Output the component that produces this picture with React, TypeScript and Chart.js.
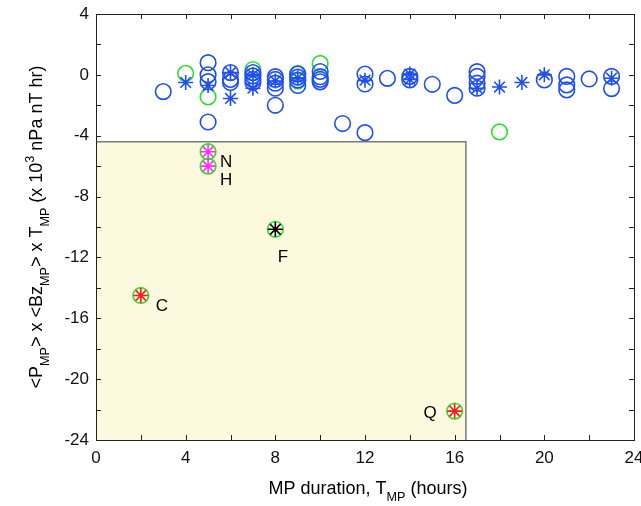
import { useEffect, useRef } from 'react';
import { Chart, registerables } from 'chart.js';

Chart.register(...registerables);

// ---- axes ----
const X_MIN = 0;
const X_MAX = 24;
const Y_MIN = -24;
const Y_MAX = 4;
const X_TICK_STEP = 4;
const Y_TICK_STEP = 4;
const MINOR_STEP = 2;

// ---- shaded region (data units) ----
const SHADE_X_MAX = 16.5;
const SHADE_Y_MAX = -4.4;

// ---- blue circles ----
const blueCircleX = [3, 5, 5, 5, 5, 6, 6, 6, 7, 7, 7, 7, 8, 8, 8, 8, 8, 9, 9, 9, 9, 10, 10, 10, 10, 11, 12, 12, 12, 13, 14, 14, 15, 16, 17, 17, 17, 17, 20, 21, 21, 21, 22, 23, 23];
const blueCircleY = [-1.1, 0.8, 0.0, -0.45, -3.1, 0.15, -0.3, -0.5, 0.15, -0.07, -0.3, -0.5, -0.12, -0.3, -0.55, -0.88, -2.0, 0.05, -0.15, -0.34, -0.7, 0.22, -0.12, -0.3, -0.46, -3.2, 0.05, -0.6, -3.8, -0.23, -0.1, -0.33, -0.62, -1.35, 0.21, -0.1, -0.55, -0.88, -0.33, -0.1, -0.66, -0.99, -0.27, -0.1, -0.9];

// ---- blue asterisks ----
const blueStarX = [4, 5, 6, 6, 7, 7, 8, 9, 12, 14, 14, 17, 18, 19, 20, 23];
const blueStarY = [-0.5, -0.7, 0.15, -1.55, 0.0, -0.88, -0.4, -0.2, -0.35, 0.05, -0.3, -0.88, -0.8, -0.5, 0.0, -0.22];

// ---- green circles ----
const greenCircleX = [4, 5, 7, 9, 9, 10, 18, 5, 5, 8, 2, 16];
const greenCircleY = [0.1, -1.45, 0.35, 0.1, -0.4, 0.75, -3.75, -5.05, -6.0, -10.15, -14.5, -22.1];

// ---- highlighted events ----
const magentaStarX = [5, 5];
const magentaStarY = [-5.05, -6.0];
const blackStarX = [8];
const blackStarY = [-10.15];
const redStarX = [2, 16];
const redStarY = [-14.5, -22.1];

// ---- event labels ----
const eventLabels = ['N', 'H', 'F', 'C', 'Q'];
const eventLabelX = [5.8, 5.8, 8.34, 2.94, 14.9];
const eventLabelY = [-5.75, -6.95, -11.98, -15.2, -22.25];

// ---- tick labels ----
const xTickValues = [0, 4, 8, 12, 16, 20, 24];
const yTickValues = [4, 0, -4, -8, -12, -16, -20, -24];

const FONT = '"Liberation Sans", Arial, Helvetica, sans-serif';
const BLUE = '#1f4ff2';
const GREEN = '#2ee02e';

type Seg = { t: string; k?: 'sub' | 'sup' };
const yTitle: Seg[] = [
  { t: '<P' }, { t: 'MP', k: 'sub' }, { t: '> x <Bz' }, { t: 'MP', k: 'sub' },
  { t: '> x T' }, { t: 'MP', k: 'sub' }, { t: ' (x 10' }, { t: '3', k: 'sup' }, { t: ' nPa nT hr)' },
];
const xTitle: Seg[] = [{ t: 'MP duration, T' }, { t: 'MP', k: 'sub' }, { t: ' (hours)' }];

const pts = (xs: number[], ys: number[]) => xs.map((x, i) => ({ x, y: ys[i] }));

function drawRich(ctx: CanvasRenderingContext2D, segs: Seg[], cx: number, by: number, size: number) {
  const small = size * 0.7;
  const fontOf = (s: Seg) => `${s.k ? small : size}px ${FONT}`;
  let total = 0;
  const widths = segs.map((s) => {
    ctx.font = fontOf(s);
    const w = ctx.measureText(s.t).width;
    total += w;
    return w;
  });
  let x = cx - total / 2;
  ctx.textAlign = 'left';
  ctx.textBaseline = 'alphabetic';
  segs.forEach((s, i) => {
    ctx.font = fontOf(s);
    const dy = s.k === 'sub' ? size * 0.38 : s.k === 'sup' ? -size * 0.45 : 0;
    ctx.fillText(s.t, x, by + dy);
    x += widths[i];
  });
}

const decorPlugin = {
  id: 'decor',
  beforeDatasetsDraw(chart: any) {
    const { ctx, scales } = chart;
    const xs = scales.x, ys = scales.y;
    const x0 = xs.getPixelForValue(X_MIN), x1 = xs.getPixelForValue(SHADE_X_MAX);
    const y0 = ys.getPixelForValue(Y_MIN), y1 = ys.getPixelForValue(SHADE_Y_MAX);
    ctx.save();
    ctx.fillStyle = '#fcf9df';
    ctx.fillRect(x0, y1, x1 - x0, y0 - y1);
    ctx.strokeStyle = '#7a7a7a';
    ctx.lineWidth = 1.5;
    ctx.beginPath();
    ctx.moveTo(x0, y1);
    ctx.lineTo(x1, y1);
    ctx.lineTo(x1, y0);
    ctx.stroke();
    ctx.restore();
  },
  afterDatasetsDraw(chart: any) {
    const { ctx, scales, chartArea: a } = chart;
    const xs = scales.x, ys = scales.y;
    ctx.save();
    // box
    ctx.strokeStyle = '#222';
    ctx.lineWidth = 1;
    ctx.strokeRect(Math.round(a.left) + 0.5, Math.round(a.top) + 0.5, Math.round(a.right - a.left), Math.round(a.bottom - a.top));
    // inward ticks
    const tl = 5;
    ctx.beginPath();
    for (let v = X_MIN; v <= X_MAX; v += MINOR_STEP) {
      const px = Math.round(xs.getPixelForValue(v)) + 0.5;
      ctx.moveTo(px, a.bottom); ctx.lineTo(px, a.bottom - tl);
      ctx.moveTo(px, a.top); ctx.lineTo(px, a.top + tl);
    }
    for (let v = Y_MIN; v <= Y_MAX; v += MINOR_STEP) {
      const py = Math.round(ys.getPixelForValue(v)) + 0.5;
      ctx.moveTo(a.left, py); ctx.lineTo(a.left + tl, py);
      ctx.moveTo(a.right, py); ctx.lineTo(a.right - tl, py);
    }
    ctx.stroke();
    // event labels
    ctx.fillStyle = '#000';
    ctx.font = `17px ${FONT}`;
    ctx.textAlign = 'center';
    ctx.textBaseline = 'middle';
    eventLabels.forEach((t, i) => {
      ctx.fillText(t, xs.getPixelForValue(eventLabelX[i]), ys.getPixelForValue(eventLabelY[i]));
    });
    ctx.restore();
  },
  afterDraw(chart: any) {
    const { ctx, scales, chartArea: a } = chart;
    const xs = scales.x, ys = scales.y;
    ctx.save();
    ctx.fillStyle = '#111';
    ctx.font = `17px ${FONT}`;
    // x tick labels
    ctx.textAlign = 'center';
    ctx.textBaseline = 'top';
    xTickValues.forEach((v) => ctx.fillText(String(v), xs.getPixelForValue(v), a.bottom + 10));
    // y tick labels
    ctx.textAlign = 'right';
    ctx.textBaseline = 'middle';
    yTickValues.forEach((v) => ctx.fillText(String(v), a.left - 7, ys.getPixelForValue(v)));
    // axis titles
    ctx.fillStyle = '#000';
    drawRich(ctx, xTitle, (a.left + a.right) / 2 + 3, 494, 18);
    ctx.translate(42, (a.top + a.bottom) / 2);
    ctx.rotate(-Math.PI / 2);
    drawRich(ctx, yTitle, 0, 0, 18);
    ctx.restore();
  },
};

export default function App() {
  const ref = useRef<HTMLCanvasElement | null>(null);
  useEffect(() => {
    if (!ref.current) return;
    const star = (data: any, color: string) => ({
      data, pointStyle: 'star', pointRadius: 7.5, borderColor: color, backgroundColor: color,
      pointBorderWidth: 1.6, showLine: false,
    });
    const circ = (data: any, color: string) => ({
      data, pointStyle: 'circle', pointRadius: 7.8, borderColor: color, backgroundColor: 'rgba(0,0,0,0)',
      pointBorderWidth: 1.6, showLine: false,
    });
    const chart = new Chart(ref.current, {
      type: 'scatter',
      data: {
        datasets: [
          star(pts(magentaStarX, magentaStarY), '#ff30ff'),
          star(pts(blackStarX, blackStarY), '#000000'),
          star(pts(redStarX, redStarY), '#ff1a1a'),
          star(pts(blueStarX, blueStarY), BLUE),
          circ(pts(blueCircleX, blueCircleY), BLUE),
          circ(pts(greenCircleX, greenCircleY), GREEN),
        ] as any,
      },
      options: {
        animation: false,
        responsive: true,
        maintainAspectRatio: false,
        events: [],
        layout: { autoPadding: false, padding: { top: 14, right: 7, left: 0, bottom: 0 } } as any,
        plugins: { legend: { display: false }, tooltip: { enabled: false } },
        scales: {
          x: {
            type: 'linear', min: X_MIN, max: X_MAX,
            grid: { display: false, drawTicks: false },
            border: { display: false },
            ticks: { display: false, stepSize: X_TICK_STEP },
            afterFit: (s: any) => { s.height = 66; },
          },
          y: {
            type: 'linear', min: Y_MIN, max: Y_MAX,
            grid: { display: false, drawTicks: false },
            border: { display: false },
            ticks: { display: false, stepSize: Y_TICK_STEP },
            afterFit: (s: any) => { s.width = 96; },
          },
        },
      } as any,
      plugins: [decorPlugin],
    });
    return () => chart.destroy();
  }, []);
  return (
    <div style={{ position: 'fixed', left: 0, top: 0, width: 641, height: 506, background: '#fff' }}>
      <canvas ref={ref} />
    </div>
  );
}
